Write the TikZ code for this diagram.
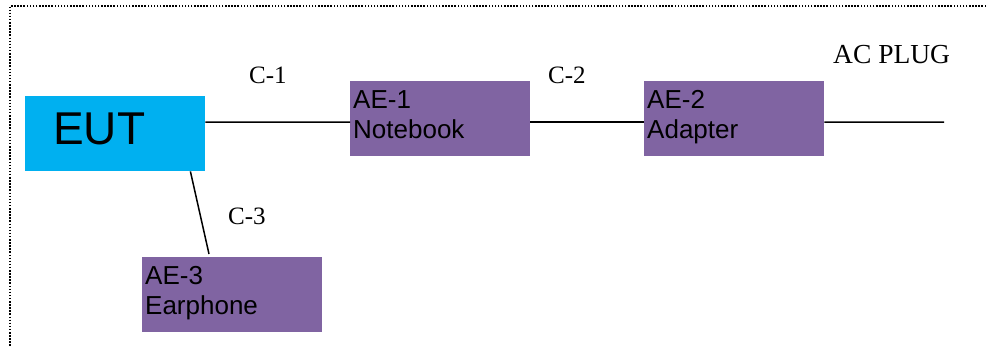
\documentclass[tikz,border=0pt]{standalone}
\usepackage{fontspec}
\setmainfont{Liberation Serif}
\newfontfamily\arialf{Liberation Sans}
\definecolor{aepurple}{HTML}{8064A2}
\definecolor{eutcyan}{HTML}{00B0F0}
\begin{document}
\begin{tikzpicture}[x=1pt,y=-1pt,
  aebox/.style={fill=aepurple, draw=none, anchor=north west, minimum width=180pt, minimum height=75pt, inner sep=0pt},
  eutbox/.style={fill=eutcyan, draw=none, anchor=north west, minimum width=180pt, minimum height=75pt, inner sep=0pt},
  aetext/.style={anchor=north west, inner sep=0pt, align=left, font=\arialf\fontsize{26}{30}\selectfont},
  euttext/.style={anchor=base west, inner sep=0pt, font=\arialf\fontsize{46}{50}\selectfont},
  cable/.style={line width=1.5pt, black},
  clabel/.style={font=\fontsize{25}{27}\selectfont, anchor=base west, inner sep=0pt},
  frame/.style={line width=1.5pt, dash pattern=on 1.5pt off 1.6pt}
]
\useasboundingbox (0,0) rectangle (987,346);
\draw[frame] (986,6) -- (10,6) -- (10,346);

\node[eutbox] (eut) at (25,96) {};
\node[aebox] (ae1) at (350,81) {};
\node[aebox] (ae2) at (644,81) {};
\node[aebox] (ae3) at (142,257) {};
\node[euttext] (eutt) at ([xshift=28pt,yshift=-48pt]eut.north west) {EUT};
\node[aetext] (ae1t) at ([xshift=3pt,yshift=-9.5pt]ae1.north west) {AE-1\\Notebook};
\node[aetext] (ae2t) at ([xshift=3pt,yshift=-9.5pt]ae2.north west) {AE-2\\Adapter};
\node[aetext] (ae3t) at ([xshift=3pt,yshift=-9.5pt]ae3.north west) {AE-3\\Earphone};
\coordinate (plug) at (944,122);

\draw[cable] ([yshift=-26pt]eut.north east) -- ([yshift=-3.5pt]ae1.west);
\draw[cable] ([yshift=-3.5pt]ae1.east) -- ([yshift=-3.5pt]ae2.west);
\draw[cable] ([yshift=-3.5pt]ae2.east) -- (plug);
\draw[cable] ([xshift=-15pt]eut.south east) -- ([xshift=67pt,yshift=3pt]ae3.north west);

\node[clabel] (c1) at (249,83) {C-1};
\node[clabel] (c2) at (548,83) {C-2};
\node[clabel] (c3) at (228,224) {C-3};
\node[clabel, font=\fontsize{27.5}{30}\selectfont] (acplug) at (833,63) {AC PLUG};
\end{tikzpicture}
\end{document}
